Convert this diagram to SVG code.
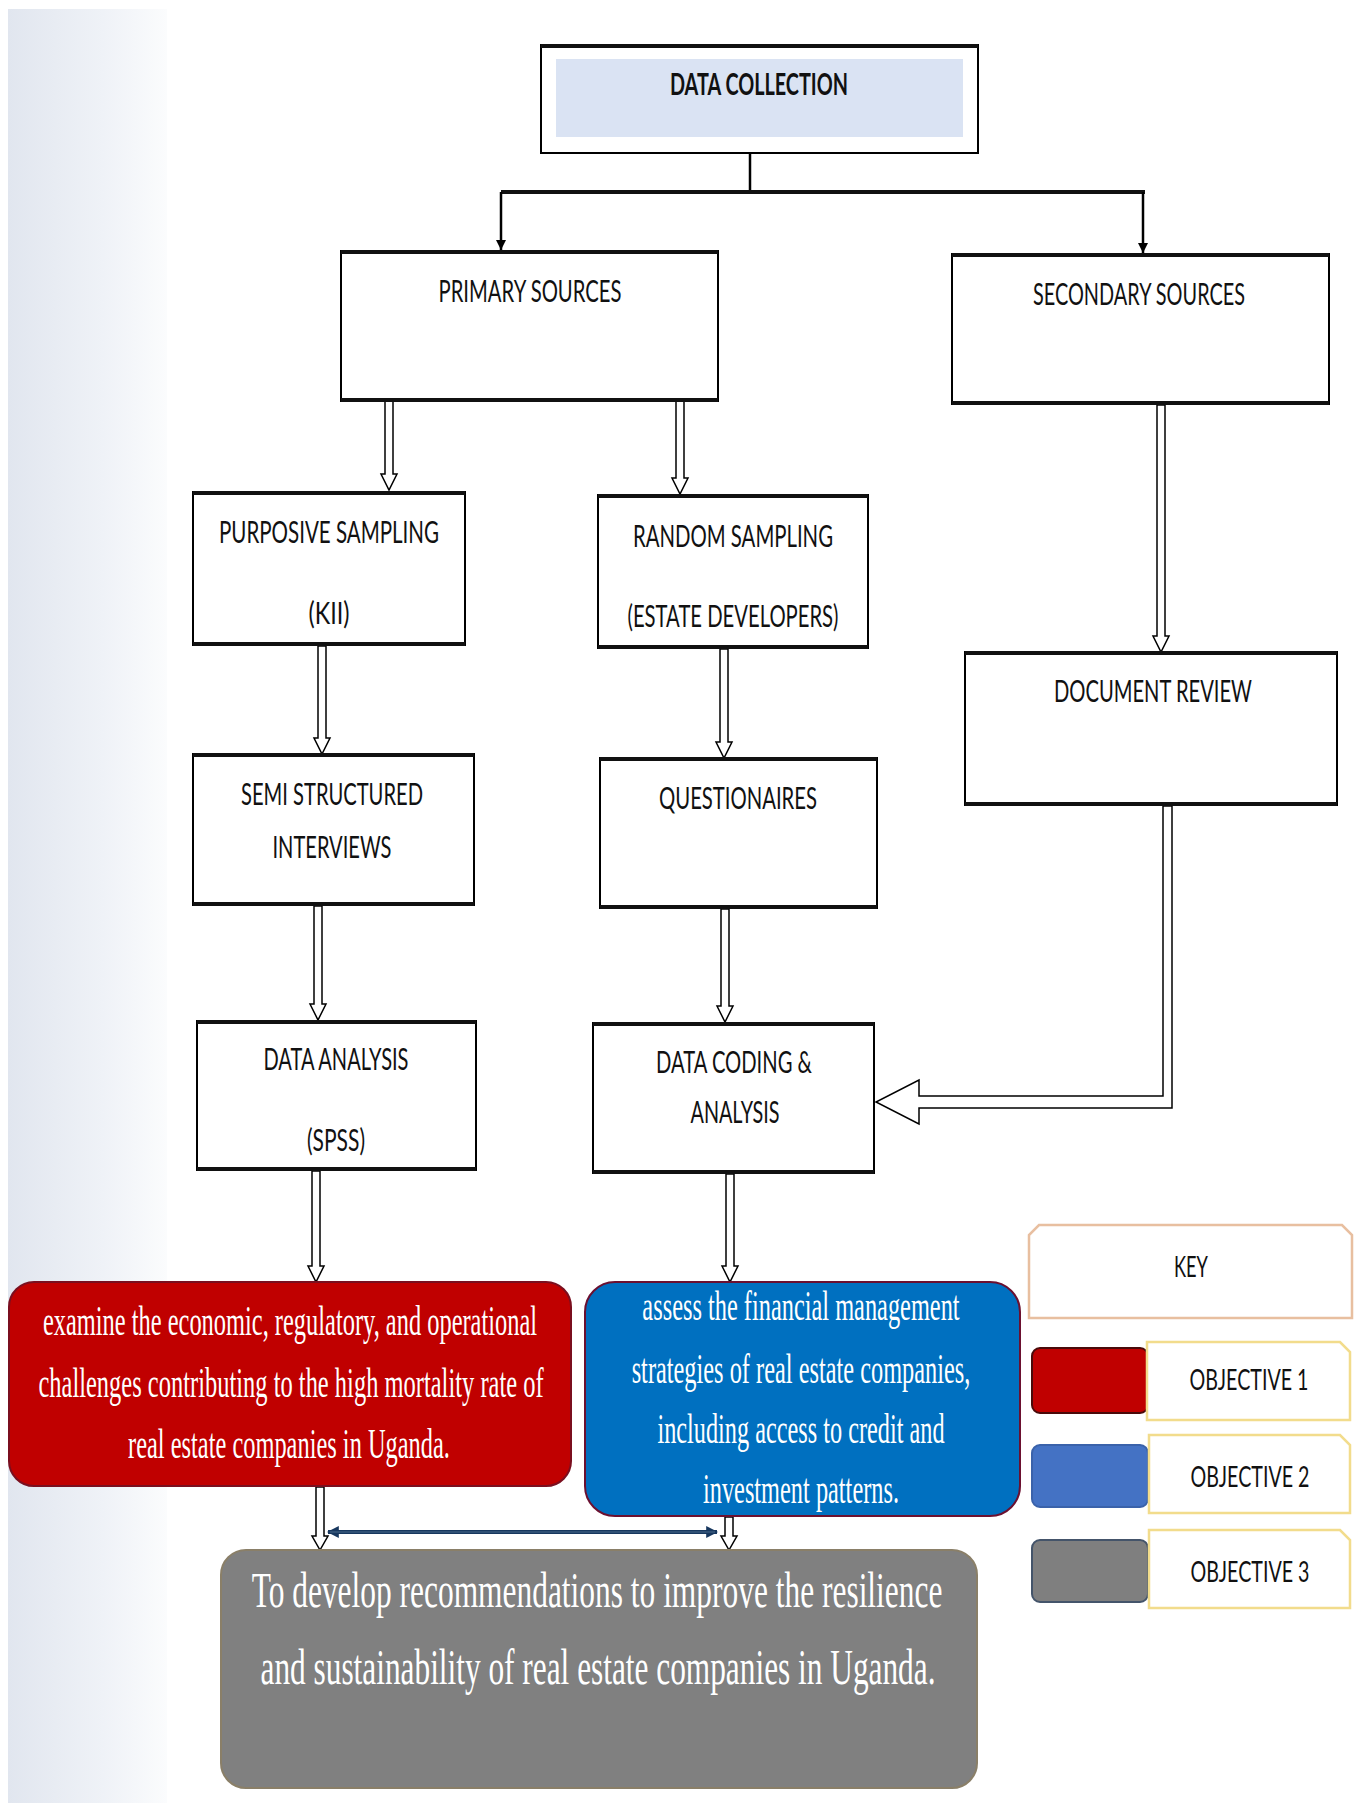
<svg xmlns="http://www.w3.org/2000/svg" width="1357" height="1803" viewBox="0 0 1357 1803">
<defs>
<linearGradient id="bg" x1="0" y1="0" x2="1" y2="0">
<stop offset="0" stop-color="#e1e6ef"/>
<stop offset="0.6" stop-color="#eff2f7"/>
<stop offset="1" stop-color="#fbfcfd"/>
</linearGradient>
<marker id="ah" viewBox="0 0 10 10" refX="10" refY="5" markerWidth="4" markerHeight="5" orient="auto" markerUnits="strokeWidth">
<path d="M0,0 L10,5 L0,10 Z" fill="#000"/>
</marker>
<marker id="dh" viewBox="0 0 10 10" refX="9" refY="5" markerWidth="3" markerHeight="3" orient="auto-start-reverse" markerUnits="strokeWidth">
<path d="M0,0 L10,5 L0,10 Z" fill="#17375e"/>
</marker>
<style>
.box{fill:#fff;stroke:#000;stroke-width:2}
.edge{stroke:#111;stroke-width:4}
.lbl{font-family:Lato,"Liberation Sans",sans-serif;font-size:30px;fill:#111;text-anchor:middle}
.obj{font-family:"Liberation Serif",serif;fill:#fff;text-anchor:middle}
.hollow{fill:#fff;stroke:#000;stroke-width:1.5;stroke-linejoin:miter}
.line{fill:none;stroke:#000;stroke-width:2.5}
.key{font-family:Lato,"Liberation Sans",sans-serif;font-size:28px;fill:#111;text-anchor:middle}
</style>
</defs>
<rect x="8" y="9" width="159" height="1794" fill="url(#bg)"/>

<g id="connectors">
<path class="line" d="M750,153 V192"/>
<path d="M501,192 H1145" stroke="#111" stroke-width="4" fill="none"/>
<path class="line" d="M501,192 V250" marker-end="url(#ah)"/>
<path class="line" d="M1143,192 V253" marker-end="url(#ah)"/>
<polygon class="hollow" points="385,401 393,401 393,474 397,474 389,490 381,474 385,474"/>
<polygon class="hollow" points="676,401 684,401 684,478 688,478 680,494 672,478 676,478"/>
<polygon class="hollow" points="1157,405 1165,405 1165,636 1169,636 1161,652 1153,636 1157,636"/>
<polygon class="hollow" points="318,646 326,646 326,738 330,738 322,754 314,738 318,738"/>
<polygon class="hollow" points="720,649 728,649 728,742 732,742 724,758 716,742 720,742"/>
<polygon class="hollow" points="314,906 322,906 322,1004 326,1004 318,1020 310,1004 314,1004"/>
<polygon class="hollow" points="721,909 729,909 729,1006 733,1006 725,1022 717,1006 721,1006"/>
<polygon class="hollow" points="1163,806 1172,806 1172,1108 919,1108 919,1124 876,1102 919,1080 919,1096 1163,1096"/>
<polygon class="hollow" points="312,1171 320,1171 320,1266 324,1266 316,1282 308,1266 312,1266"/>
<polygon class="hollow" points="726,1174 734,1174 734,1266 738,1266 730,1282 722,1266 726,1266"/>
<polygon class="hollow" points="316,1487 324,1487 324,1536 328,1536 320,1550 312,1536 316,1536"/>
<polygon class="hollow" points="725,1517 733,1517 733,1536 737,1536 729,1550 721,1536 725,1536"/>
<path d="M328,1532 H717" stroke="#17375e" stroke-width="4" fill="none" marker-start="url(#dh)" marker-end="url(#dh)"/>
<path d="M330,1532 H715" stroke="#4a6b8a" stroke-width="1" fill="none"/>
</g>

<g id="n-data-collection">
<rect class="box" x="541" y="45" width="437" height="108"/>
<path class="edge" d="M541,46 H978"/>
<rect x="556" y="59" width="407" height="78" fill="#dae3f3"/>
<text class="lbl" x="759" y="95" textLength="178" lengthAdjust="spacingAndGlyphs" font-size="32" font-weight="bold">DATA COLLECTION</text>
</g>

<g id="n-primary">
<rect class="box" x="341" y="251" width="377" height="150"/>
<path class="edge" d="M341,252 H718 M341,400 H718"/>
<text class="lbl" x="530" y="302" textLength="183" lengthAdjust="spacingAndGlyphs">PRIMARY SOURCES</text>
</g>

<g id="n-secondary">
<rect class="box" x="952" y="254" width="377" height="150"/>
<path class="edge" d="M952,255 H1329 M952,403 H1329"/>
<text class="lbl" x="1139" y="305" textLength="212" lengthAdjust="spacingAndGlyphs">SECONDARY SOURCES</text>
</g>

<g id="n-purposive">
<rect class="box" x="193" y="492" width="272" height="153"/>
<path class="edge" d="M193,493 H465 M193,644 H465"/>
<text class="lbl" x="329" y="543" textLength="220" lengthAdjust="spacingAndGlyphs">PURPOSIVE SAMPLING</text>
<text class="lbl" x="329" y="624" textLength="41" lengthAdjust="spacingAndGlyphs">(KII)</text>
</g>

<g id="n-random">
<rect class="box" x="598" y="495" width="270" height="153"/>
<path class="edge" d="M598,496 H868 M598,647 H868"/>
<text class="lbl" x="733" y="547" textLength="200" lengthAdjust="spacingAndGlyphs">RANDOM SAMPLING</text>
<text class="lbl" x="733" y="627" textLength="211" lengthAdjust="spacingAndGlyphs">(ESTATE DEVELOPERS)</text>
</g>

<g id="n-document-review">
<rect class="box" x="965" y="652" width="372" height="153"/>
<path class="edge" d="M965,653 H1337 M965,804 H1337"/>
<text class="lbl" x="1153" y="702" textLength="198" lengthAdjust="spacingAndGlyphs">DOCUMENT REVIEW</text>
</g>

<g id="n-semi">
<rect class="box" x="193" y="754" width="281" height="151"/>
<path class="edge" d="M193,755 H474 M193,904 H474"/>
<text class="lbl" x="332" y="805" textLength="182" lengthAdjust="spacingAndGlyphs">SEMI STRUCTURED</text>
<text class="lbl" x="332" y="858" textLength="119" lengthAdjust="spacingAndGlyphs">INTERVIEWS</text>
</g>

<g id="n-questionaires">
<rect class="box" x="600" y="758" width="277" height="150"/>
<path class="edge" d="M600,759 H877 M600,907 H877"/>
<text class="lbl" x="738" y="809" textLength="158" lengthAdjust="spacingAndGlyphs">QUESTIONAIRES</text>
</g>

<g id="n-data-analysis">
<rect class="box" x="197" y="1021" width="279" height="149"/>
<path class="edge" d="M197,1022 H476 M197,1169 H476"/>
<text class="lbl" x="336" y="1070" textLength="145" lengthAdjust="spacingAndGlyphs">DATA ANALYSIS</text>
<text class="lbl" x="336" y="1151" textLength="58" lengthAdjust="spacingAndGlyphs">(SPSS)</text>
</g>

<g id="n-data-coding">
<rect class="box" x="593" y="1023" width="281" height="150"/>
<path class="edge" d="M593,1024 H874 M593,1172 H874"/>
<text class="lbl" x="734" y="1073" textLength="156" lengthAdjust="spacingAndGlyphs">DATA CODING &amp;</text>
<text class="lbl" x="735" y="1123" textLength="89" lengthAdjust="spacingAndGlyphs">ANALYSIS</text>
</g>

<g id="n-objective-1">
<rect x="9" y="1282" width="562" height="204" rx="25" fill="#c00000" stroke="#7a0f1f" stroke-width="2"/>
<text class="obj" transform="translate(290,1335) scale(0.58,1)" font-size="42" textLength="852" lengthAdjust="spacingAndGlyphs">examine the economic, regulatory, and operational</text>
<text class="obj" transform="translate(291,1397) scale(0.58,1)" font-size="42" textLength="871" lengthAdjust="spacingAndGlyphs">challenges contributing to the high mortality rate of</text>
<text class="obj" transform="translate(289,1458) scale(0.58,1)" font-size="42" textLength="555" lengthAdjust="spacingAndGlyphs">real estate companies in Uganda.</text>
</g>

<g id="n-objective-2">
<rect x="585" y="1282" width="435" height="234" rx="30" fill="#0070c0" stroke="#6b1030" stroke-width="2"/>
<text class="obj" transform="translate(801,1320) scale(0.58,1)" font-size="42" textLength="547" lengthAdjust="spacingAndGlyphs">assess the financial management</text>
<text class="obj" transform="translate(801,1383) scale(0.58,1)" font-size="42" textLength="584" lengthAdjust="spacingAndGlyphs">strategies of real estate companies,</text>
<text class="obj" transform="translate(801,1443) scale(0.58,1)" font-size="42" textLength="495" lengthAdjust="spacingAndGlyphs">including access to credit and</text>
<text class="obj" transform="translate(801,1503) scale(0.58,1)" font-size="42" textLength="338" lengthAdjust="spacingAndGlyphs">investment patterns.</text>
</g>

<g id="n-objective-3">
<rect x="221" y="1550" width="756" height="238" rx="25" fill="#808080" stroke="#8a7f68" stroke-width="2"/>
<text class="obj" transform="translate(597,1607) scale(0.656,1)" font-size="50" textLength="1053" lengthAdjust="spacingAndGlyphs">To develop recommendations to improve the resilience</text>
<text class="obj" transform="translate(598,1684) scale(0.656,1)" font-size="50" textLength="1029" lengthAdjust="spacingAndGlyphs">and sustainability of real estate companies in Uganda.</text>
</g>

<g id="legend">
<g id="key">
<path d="M1029,1318 V1235 L1039,1225 H1342 L1352,1235 V1318 Z" fill="#fff" stroke="#e8bfa0" stroke-width="2.5"/>
<text class="key" x="1191" y="1277" textLength="34" lengthAdjust="spacingAndGlyphs">KEY</text>
</g>
<g id="key-1">
<rect x="1032" y="1348" width="116" height="65" rx="8" fill="#c00000" stroke="#4a0a0a" stroke-width="2"/>
<path d="M1147,1342 H1340 L1350,1352 V1420 H1147 Z" fill="#fff" stroke="#f2dc8c" stroke-width="2.5"/>
<text class="key" x="1249" y="1390" textLength="119" lengthAdjust="spacingAndGlyphs">OBJECTIVE 1</text>
</g>
<g id="key-2">
<rect x="1032" y="1445" width="116" height="62" rx="8" fill="#4472c4" stroke="#3a62aa" stroke-width="2"/>
<path d="M1149,1435 H1340 L1350,1445 V1513 H1149 Z" fill="#fff" stroke="#f2dc8c" stroke-width="2.5"/>
<text class="key" x="1250" y="1487" textLength="119" lengthAdjust="spacingAndGlyphs">OBJECTIVE 2</text>
</g>
<g id="key-3">
<rect x="1032" y="1540" width="116" height="62" rx="8" fill="#7f7f7f" stroke="#44546a" stroke-width="2"/>
<path d="M1149,1530 H1340 L1350,1540 V1608 H1149 Z" fill="#fff" stroke="#f2dc8c" stroke-width="2.5"/>
<text class="key" x="1250" y="1582" textLength="119" lengthAdjust="spacingAndGlyphs">OBJECTIVE 3</text>
</g>
</g>
</svg>
